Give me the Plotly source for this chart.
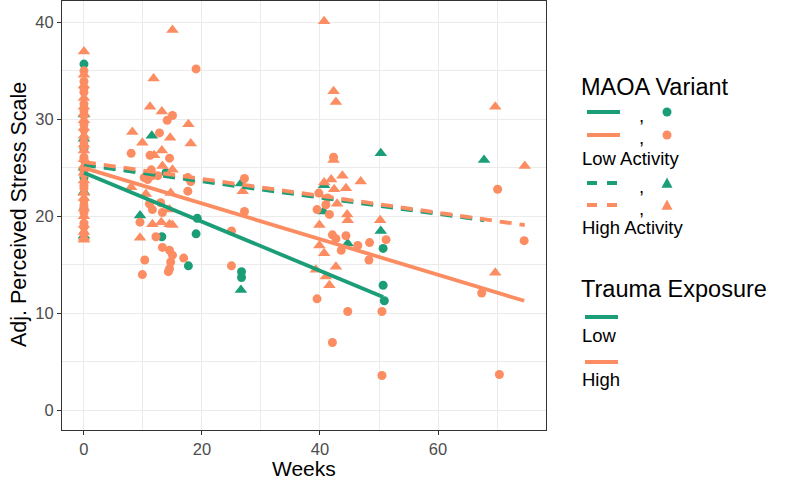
import plotly.graph_objects as go

GREEN = "#1B9E77"
ORANGE = "#FC8D62"

# ---------------- data ----------------
# Low Activity MAOA, Low trauma (green circles)
lalt_weeks = [0, 0, 0, 0, 13.9, 19.2, 19.0, 13.2, 17.7, 26.7, 26.7, 50.7, 50.7, 50.9]
lalt_vals = [35.7, 20.8, 24.0, 27.0, 24.5, 19.8, 18.2, 17.9, 14.9, 14.3, 13.7, 16.7, 12.9, 11.3]

# High Activity MAOA, Low trauma (green triangles)
halt_weeks = [0, 0, 0, 0, 0, 11.5, 9.5, 26.6, 26.6, 40.6, 40.7, 44.7, 50.3, 50.3, 67.8]
halt_vals = [30.5, 28.0, 18.0, 22.5, 25.0, 28.3, 20.1, 12.4, 23.4, 20.5, 23.2, 17.2, 26.5, 18.5, 25.8]

# Low Activity MAOA, High trauma (orange circles)
laht_weeks = [0] * 23 + [
    19.0, 15.0, 14.1, 12.8, 8.0, 11.2, 14.5, 11.4, 12.5, 10.8, 17.6, 18.1, 10.2, 11.6,
    17.6, 11.1, 11.6, 13.0, 13.3, 9.5, 12.2, 13.3, 14.5, 15.0, 14.7, 14.5, 14.3, 16.9,
    10.3, 9.9, 27.2, 27.2, 25.0, 25.0, 42.3, 39.8, 41.3, 41.0, 39.5, 41.6, 42.1, 42.7,
    44.4, 43.6, 46.4, 48.4, 48.3, 51.2, 39.5, 44.7, 50.5, 42.1, 50.5, 70.1, 74.6, 67.4, 70.4]
laht_vals = [35.0, 33.9, 33.2, 32.8, 31.6, 30.9, 30.4, 29.5, 28.9, 27.7, 27.2, 26.1, 25.8,
             24.7, 24.3, 23.2, 22.9, 21.6, 21.1, 20.4, 19.3, 18.9, 18.2] + [
    35.2, 30.4, 29.9, 28.6, 26.5, 26.3, 26.0, 24.8, 24.2, 23.8, 24.0, 23.6, 24.0, 24.2,
    22.6, 21.3, 20.7, 21.4, 20.4, 19.4, 17.9, 16.8, 16.5, 16.0, 15.3, 14.6, 14.3, 15.7,
    15.5, 14.0, 23.9, 20.5, 18.5, 14.9, 26.1, 22.4, 21.9, 21.2, 20.7, 20.2, 18.1, 17.7,
    18.0, 16.5, 17.0, 17.3, 15.5, 17.6, 11.5, 10.2, 10.2, 7.0, 3.6, 22.8, 17.5, 12.1, 3.7]

# High Activity MAOA, High trauma (orange triangles)
haht_weeks = [0] * 23 + [
    15.0, 11.8, 11.2, 13.2, 17.7, 8.2, 14.6, 9.9, 18.1, 13.2, 11.9, 15.0, 13.3, 8.0,
    10.5, 14.7, 14.5, 11.6, 13.1, 14.5, 15.0, 9.5, 26.9, 40.7, 42.3, 42.7, 42.3, 40.7,
    41.9, 43.8, 44.4, 46.9, 42.4, 42.9, 44.6, 44.7, 39.9, 50.2, 39.9, 40.7, 42.7, 39.3,
    41.0, 41.6, 69.7, 74.7, 69.7]
haht_vals = [37.0, 34.6, 33.5, 32.2, 31.3, 30.6, 29.9, 29.1, 28.3, 27.4, 26.8, 25.9, 25.2,
             24.5, 23.7, 22.4, 21.9, 20.8, 20.0, 19.1, 18.4, 17.8, 17.6] + [
    39.2, 34.2, 31.3, 30.8, 29.5, 28.7, 28.1, 27.6, 27.5, 26.8, 26.3, 24.8, 25.2, 23.0,
    22.3, 22.4, 20.7, 19.2, 19.4, 19.2, 19.1, 17.8, 22.6, 40.1, 32.9, 31.8, 25.8, 23.5,
    23.8, 24.2, 22.9, 23.6, 22.8, 21.3, 20.2, 19.6, 19.1, 19.6, 17.0, 16.2, 14.8, 14.5,
    13.8, 12.9, 31.3, 25.2, 14.2]

# Fitted regression lines (endpoints)
fit_lalt_weeks, fit_lalt_vals = [0, 50.7], [24.5, 11.7]
fit_laht_weeks, fit_laht_vals = [0, 74.6], [25.0, 11.3]
fit_halt_weeks, fit_halt_vals = [0, 67.8], [25.3, 19.6]
fit_haht_weeks, fit_haht_vals = [0, 74.7], [25.6, 19.1]

x_ticks = [0, 20, 40, 60]
y_ticks = [0, 10, 20, 30, 40]

# ---------------- figure ----------------
fig = go.Figure()
fig.add_trace(go.Scatter(x=halt_weeks, y=halt_vals, mode="markers",
                         marker=dict(symbol="triangle-up", size=11, color=GREEN)))
fig.add_trace(go.Scatter(x=lalt_weeks, y=lalt_vals, mode="markers",
                         marker=dict(symbol="circle", size=9, color=GREEN)))
fig.add_trace(go.Scatter(x=laht_weeks, y=laht_vals, mode="markers",
                         marker=dict(symbol="circle", size=9, color=ORANGE)))
fig.add_trace(go.Scatter(x=haht_weeks, y=haht_vals, mode="markers",
                         marker=dict(symbol="triangle-up", size=11, color=ORANGE)))

LW = 3.8
fig.add_trace(go.Scatter(x=fit_halt_weeks, y=fit_halt_vals, mode="lines",
                         line=dict(color=GREEN, width=LW, dash="12px,8px")))
fig.add_trace(go.Scatter(x=fit_haht_weeks, y=fit_haht_vals, mode="lines",
                         line=dict(color=ORANGE, width=LW, dash="12px,8px")))
fig.add_trace(go.Scatter(x=fit_lalt_weeks, y=fit_lalt_vals, mode="lines",
                         line=dict(color=GREEN, width=LW)))
fig.add_trace(go.Scatter(x=fit_laht_weeks, y=fit_laht_vals, mode="lines",
                         line=dict(color=ORANGE, width=LW)))

FONT = "Liberation Sans, Arial, Helvetica, sans-serif"
L, R, T, B = 62, 250, 1, 55
W, H = 796, 485
PW, PH = W - L - R, H - T - B


def px(x):
    return (x - L) / PW


def py(y):
    return (H - B - y) / PH


axis_common = dict(
    showgrid=True, gridcolor="#EBEBEB", gridwidth=1.3,
    zeroline=False, showline=True, linecolor="#333333", linewidth=1, mirror=True,
    ticks="outside", ticklen=4, tickwidth=1, tickcolor="#333333",
    tickfont=dict(family=FONT, size=16.5, color="#4D4D4D"),
)

fig.update_layout(
    width=W, height=H,
    margin=dict(l=L, r=R, t=T, b=B, pad=0),
    paper_bgcolor="white", plot_bgcolor="white",
    showlegend=False,
    font=dict(family=FONT, color="black"),
    xaxis=dict(range=[-3.72, 78.3], tickmode="array", tickvals=x_ticks,
               minor=dict(tickmode="array", tickvals=[10, 30, 50, 70], showgrid=True,
                          gridcolor="#EBEBEB", gridwidth=0.6, ticks=""),
               **axis_common),
    yaxis=dict(range=[-2.02, 42.2], tickmode="array", tickvals=y_ticks,
               minor=dict(tickmode="array", tickvals=[5, 15, 25, 35], showgrid=True,
                          gridcolor="#EBEBEB", gridwidth=0.6, ticks=""),
               **axis_common),
)

annotations = [
    dict(text="Weeks", x=0.5, y=py(469), xref="paper", yref="paper",
         xanchor="center", yanchor="middle", showarrow=False,
         font=dict(family=FONT, size=21, color="black")),
    dict(text="Adj. Perceived Stress Scale", x=px(19), y=py(215), xref="paper", yref="paper",
         xanchor="center", yanchor="middle", textangle=-90, showarrow=False,
         font=dict(family=FONT, size=21.5, color="black")),
]
shapes = []


def legend_text(txt, x, y, size):
    annotations.append(dict(text=txt, x=px(x), y=py(y), xref="paper", yref="paper",
                            xanchor="left", yanchor="middle", showarrow=False,
                            font=dict(family=FONT, size=size, color="black")))


def legend_line(y, color, dash="solid"):
    shapes.append(dict(type="line", xref="paper", yref="paper",
                       x0=px(587), x1=px(620), y0=py(y), y1=py(y),
                       line=dict(color=color, width=4, dash=dash)))


def legend_circle(y, color):
    r = 4.5
    shapes.append(dict(type="circle", xref="paper", yref="paper",
                       x0=px(667 - r), x1=px(667 + r), y0=py(y + r), y1=py(y - r),
                       fillcolor=color, line=dict(width=0)))


def legend_triangle(y, color):
    s = 5.5
    path = "M {:.5f},{:.5f} L {:.5f},{:.5f} L {:.5f},{:.5f} Z".format(
        px(667 - s), py(y + s * 0.85), px(667 + s), py(y + s * 0.85), px(667), py(y - s * 1.0))
    shapes.append(dict(type="path", xref="paper", yref="paper", path=path,
                       fillcolor=color, line=dict(width=0)))


LT, LL = 23.5, 18.5
legend_text("MAOA Variant", 579, 87, LT)
legend_line(112, GREEN)
legend_text(",", 637, 115, LL)
legend_circle(112, GREEN)
legend_line(135, ORANGE)
legend_text(",", 637, 138, LL)
legend_circle(135, ORANGE)
legend_text("Low Activity", 580, 158, LL)
legend_line(183, GREEN, "10px,10px")
legend_text(",", 637, 186, LL)
legend_triangle(183, GREEN)
legend_line(205, ORANGE, "10px,10px")
legend_text(",", 637, 208, LL)
legend_triangle(205, ORANGE)
legend_text("High Activity", 580, 228, LL)
legend_text("Trauma Exposure", 579, 289, LT)
shapes.append(dict(type="line", xref="paper", yref="paper", x0=px(585), x1=px(618),
                   y0=py(317), y1=py(317), line=dict(color=GREEN, width=4)))
legend_text("Low", 580, 335, LL)
shapes.append(dict(type="line", xref="paper", yref="paper", x0=px(585), x1=px(618),
                   y0=py(362), y1=py(362), line=dict(color=ORANGE, width=4)))
legend_text("High", 580, 379, LL)

fig.update_layout(annotations=annotations, shapes=shapes)
fig.write_html("out.html", config={"displayModeBar": False},
               post_script="document.body.style.margin='0';")
